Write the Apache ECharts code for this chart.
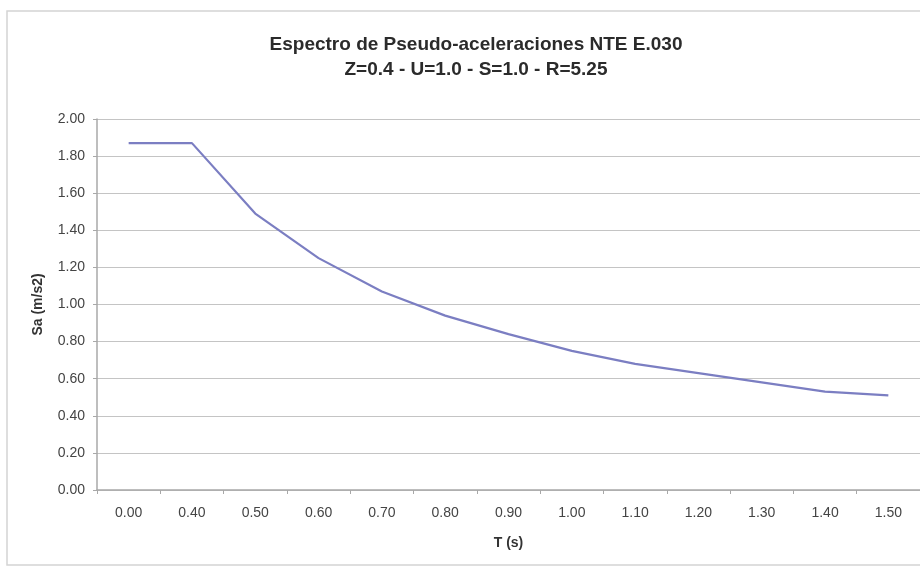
<!DOCTYPE html>
<html><head><meta charset="utf-8">
<script src="https://cdn.jsdelivr.net/npm/echarts@6/dist/echarts.min.js"></script>
<style>html,body{margin:0;padding:0;background:#fff}#c{width:920px;height:567px}</style>
</head><body><div id="c"></div>
<script>
const categories = ['0.00','0.40','0.50','0.60','0.70','0.80','0.90','1.00','1.10','1.20','1.30','1.40','1.50'];
const saValues = [1.87,1.87,1.49,1.25,1.07,0.94,0.84,0.75,0.68,0.63,0.58,0.53,0.51];
const yTicks = [0,0.2,0.4,0.6,0.8,1.0,1.2,1.4,1.6,1.8,2.0];
const titleText = 'Espectro de Pseudo-aceleraciones NTE E.030';
const subText = 'Z=0.4 - U=1.0 - S=1.0 - R=5.25';

const FONT = 'Liberation Sans, Arial, sans-serif';
const chart = echarts.init(document.getElementById('c'), null, {renderer:'canvas'});
chart.setOption({
  backgroundColor:'#ffffff',
  animation:false,
  graphic:[{type:'rect',shape:{x:7,y:11,width:940,height:554},style:{fill:'none',stroke:'#d4d4d4',lineWidth:1.5},silent:true}],
  title:{text:titleText+'\n'+subText, left:471, textAlign:'center', top:27,
    textStyle:{fontFamily:FONT,fontSize:19,lineHeight:25,fontWeight:'bold',color:'#2b2b2b'}},
  grid:{left:97,right:0,top:119,bottom:77},
  xAxis:{type:'category',data:categories,boundaryGap:true,
    name:'T (s)',nameLocation:'middle',nameGap:46,
    nameTextStyle:{fontFamily:FONT,fontSize:14,fontWeight:'bold',color:'#333'},
    axisLine:{lineStyle:{color:'#a8a8a8',width:1.5}},
    axisTick:{show:true,alignWithLabel:false,length:4,lineStyle:{color:'#a8a8a8'}},
    axisLabel:{margin:16,fontFamily:FONT,fontSize:14,color:'#444'},
    splitLine:{show:false}},
  yAxis:{type:'value',min:yTicks[0],max:yTicks[yTicks.length-1],interval:0.2,
    name:'Sa (m/s2)',nameLocation:'middle',nameGap:52,nameRotate:90,
    nameTextStyle:{fontFamily:FONT,fontSize:14,fontWeight:'bold',color:'#333'},
    axisLine:{show:true,lineStyle:{color:'#a8a8a8',width:1.5}},
    axisTick:{show:true,length:4,lineStyle:{color:'#a8a8a8'}},
    axisLabel:{margin:12,fontFamily:FONT,fontSize:14,color:'#444',formatter:v=>v.toFixed(2)},
    splitLine:{show:true,lineStyle:{color:'#c4c4c4',width:1.2}}},
  series:[{type:'line',data:saValues,smooth:false,symbol:'none',
    lineStyle:{color:'#7b7ec2',width:2.2}}]
});
</script></body></html>
